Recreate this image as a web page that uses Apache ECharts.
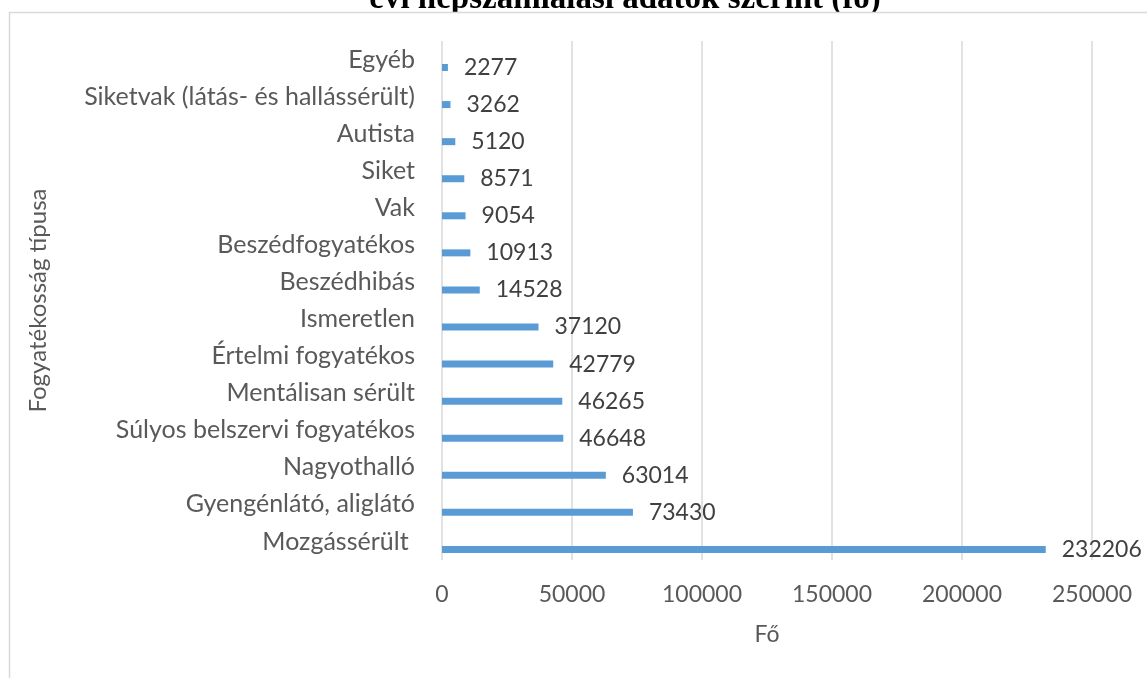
<!DOCTYPE html>
<html>
<head>
<meta charset="utf-8">
<script src="https://cdn.jsdelivr.net/npm/echarts@6/dist/echarts.min.js"></script>
<style>
html,body{margin:0;padding:0;background:#fff;}
#c{width:1147px;height:678px;}
</style>
</head>
<body>
<div id="c"></div>
<script>
// categories listed bottom -> top (as the axis draws them)
const categories = [
  'Mozgássérült ',
  'Gyengénlátó, aliglátó',
  'Nagyothalló',
  'Súlyos belszervi fogyatékos',
  'Mentálisan sérült',
  'Értelmi fogyatékos',
  'Ismeretlen',
  'Beszédhibás',
  'Beszédfogyatékos',
  'Vak',
  'Siket',
  'Autista',
  'Siketvak (látás- és hallássérült)',
  'Egyéb'
];
const values = [232206, 73430, 63014, 46648, 46265, 42779, 37120, 14528, 10913, 9054, 8571, 5120, 3262, 2277];
const emptySlot = categories.map(() => null);
const titleText = 'évi népszámlálási adatok szerint (fő)';
const xAxisName = 'Fő';
const yAxisName = 'Fogyatékosság típusa';

const chart = echarts.init(document.getElementById('c'), null, {renderer: 'canvas'});
const FONT = 'Lato';
chart.setOption({
  backgroundColor: '#ffffff',
  animation: false,
  graphic: [
    {
      type: 'text', z: -20, silent: true,
      style: {
        text: titleText, x: 625, y: 16,
        align: 'center', verticalAlign: 'bottom',
        font: 'bold 33px "Liberation Serif"', fill: '#000'
      }
    },
    {
      type: 'rect', z: -10, silent: true,
      shape: {x: 9.5, y: 12.5, width: 1200, height: 700},
      style: {fill: '#ffffff', stroke: '#d9d9d9', lineWidth: 1.5}
    }
  ],
  grid: {left: 442, right: 55, top: 41, bottom: 118, containLabel: false},
  xAxis: {
    type: 'value', min: 0, max: 250000, interval: 50000,
    name: xAxisName, nameLocation: 'middle', nameGap: 63,
    nameTextStyle: {fontFamily: FONT, fontSize: 23, color: '#595959'},
    axisLine: {show: false}, axisTick: {show: false},
    axisLabel: {fontFamily: FONT, fontSize: 23, color: '#595959', margin: 23,
      formatter: v => String(v)},
    splitLine: {show: true, lineStyle: {color: '#d9d9d9', width: 1.5}}
  },
  yAxis: {
    type: 'category', data: categories,
    name: yAxisName, nameLocation: 'middle', nameGap: 392, nameRotate: 90,
    nameTextStyle: {fontFamily: FONT, fontSize: 24, color: '#595959'},
    axisLine: {show: false}, axisTick: {show: false},
    axisLabel: {fontFamily: FONT, fontSize: 25, color: '#595959', margin: 27},
    splitLine: {show: false}
  },
  series: [
    {
      type: 'bar', data: emptySlot, barWidth: 7, barGap: '128%',
      itemStyle: {color: '#ed7d31'}
    },
    {
      type: 'bar', data: values, barWidth: 7, barGap: '128%',
      itemStyle: {color: '#5b9bd5'},
      label: {show: true, position: 'right', distance: 16,
        fontFamily: FONT, fontSize: 23, color: '#404040'}
    }
  ]
});
</script>
</body>
</html>
